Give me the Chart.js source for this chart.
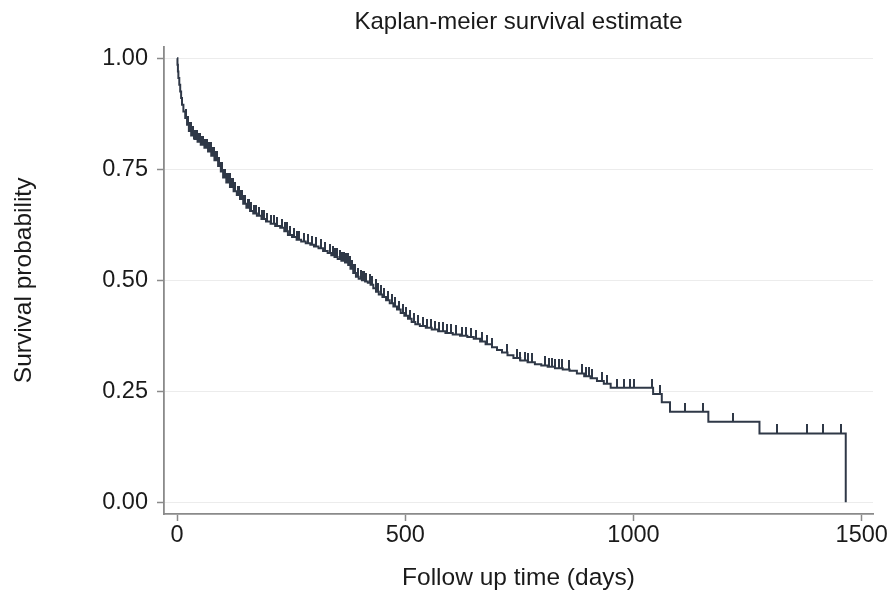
<!DOCTYPE html>
<html>
<head>
<meta charset="utf-8">
<script src="https://cdn.jsdelivr.net/npm/chart.js@4.4.1/dist/chart.umd.min.js"></script>
<style>
  html, body { margin: 0; padding: 0; background: #ffffff; }
  #wrap { width: 895px; height: 595px; }
</style>
</head>
<body>
<div id="wrap"><canvas id="c" width="895" height="595"></canvas></div>
<script>
// ---- Data ----
const chartTitle = "Kaplan-meier survival estimate";
const xAxisTitle = "Follow up time (days)";
const yAxisTitle = "Survival probability";
const xTickValues = [0, 500, 1000, 1500];
const yTickValues = [0, 0.25, 0.5, 0.75, 1];

// event times (days) and survival estimate just after each event
const eventTimes = [0, 1, 2, 3, 5, 7, 9, 11, 14, 18, 22, 26, 31, 38, 45, 52, 60, 68, 75, 82, 90, 96, 101, 108, 116, 124, 131, 138, 145, 152, 160, 167, 175, 185, 195, 205, 215, 226, 235, 243, 252, 262, 272, 282, 292, 300, 310, 320, 330, 338, 345, 352, 360, 368, 375, 380, 386, 392, 398, 405, 412, 418, 424, 430, 436, 442, 450, 458, 466, 474, 482, 490, 498, 506, 514, 522, 532, 545, 558, 572, 588, 604, 620, 636, 650, 664, 676, 690, 701, 712, 724, 737, 752, 768, 784, 798, 812, 828, 845, 860, 876, 892, 906, 920, 935, 950, 1043, 1062, 1080, 1164, 1276, 1465];
const survival   = [1.000, 0.985, 0.970, 0.955, 0.940, 0.925, 0.910, 0.895, 0.880, 0.865, 0.850, 0.836, 0.826, 0.818, 0.812, 0.805, 0.798, 0.790, 0.780, 0.770, 0.757, 0.745, 0.731, 0.720, 0.710, 0.700, 0.692, 0.683, 0.672, 0.663, 0.656, 0.650, 0.645, 0.638, 0.632, 0.627, 0.622, 0.618, 0.610, 0.602, 0.597, 0.591, 0.587, 0.583, 0.580, 0.576, 0.572, 0.566, 0.561, 0.556, 0.552, 0.548, 0.544, 0.540, 0.534, 0.526, 0.516, 0.508, 0.503, 0.500, 0.497, 0.494, 0.490, 0.482, 0.474, 0.468, 0.462, 0.455, 0.448, 0.441, 0.434, 0.426, 0.420, 0.413, 0.406, 0.401, 0.397, 0.393, 0.389, 0.385, 0.381, 0.378, 0.375, 0.372, 0.368, 0.362, 0.356, 0.349, 0.343, 0.337, 0.331, 0.325, 0.319, 0.315, 0.311, 0.308, 0.305, 0.302, 0.299, 0.296, 0.290, 0.284, 0.279, 0.273, 0.267, 0.258, 0.244, 0.225, 0.204, 0.1815, 0.155, 0.000];

// censored observation times (days)
const censorTimes = [20, 24, 28, 30, 32, 34, 36, 38, 40, 42, 44, 46, 48, 51, 55, 58, 61, 63, 66, 70, 74, 78, 81, 85, 88, 91, 93, 96, 99, 103, 105, 109, 112, 115, 118, 122, 125, 128, 133, 135, 140, 142, 147, 150, 155, 158, 163, 168, 172, 180, 186, 190, 198, 206, 212, 220, 230, 236, 240, 248, 256, 262, 268, 278, 286, 296, 305, 315, 325, 335, 342, 346, 350, 356, 362, 366, 370, 374, 378, 383, 387, 390, 396, 402, 406, 410, 415, 422, 428, 435, 440, 446, 454, 462, 470, 478, 486, 494, 502, 510, 520, 528, 538, 548, 556, 565, 575, 582, 592, 600, 612, 625, 632, 645, 655, 668, 679, 690, 723, 745, 752, 763, 770, 778, 807, 814, 822, 829, 836, 844, 858, 888, 895, 902, 910, 932, 942, 964, 979, 993, 1001, 1041, 1059, 1113, 1152, 1219, 1314, 1381, 1416, 1455];

// ---- Build library data from the arrays ----
function survivalAt(t) {
  let s = survival[0];
  for (let i = 0; i < eventTimes.length; i++) {
    if (eventTimes[i] <= t) s = survival[i]; else break;
  }
  return s;
}
const curvePoints = eventTimes.map((t, i) => ({ x: t, y: survival[i] }));
const censorPoints = censorTimes.map(t => ({ x: t, y: survivalAt(t) }));

const lineColor = '#2f3847';
// upward censor tick marker
const tickMark = document.createElement('canvas');
tickMark.width = 2; tickMark.height = 18;
(function () {
  const g = tickMark.getContext('2d');
  g.fillStyle = lineColor;
  g.fillRect(0, 0, 2, 9);
})();

Chart.defaults.font.family = "'Liberation Sans', Arial, Helvetica, sans-serif";
Chart.defaults.color = '#1a1a1a';

new Chart(document.getElementById('c'), {
  type: 'scatter',
  data: {
    datasets: [
      {
        type: 'line',
        data: curvePoints,
        stepped: true,
        borderColor: lineColor,
        borderWidth: 2,
        pointRadius: 0,
        fill: false,
        tension: 0
      },
      {
        type: 'scatter',
        data: censorPoints,
        pointStyle: tickMark,
        pointRadius: 9,
        pointHoverRadius: 9
      }
    ]
  },
  options: {
    responsive: false,
    animation: false,
    events: [],
    layout: { padding: { left: 0, right: 22, top: 0, bottom: 0 } },
    plugins: {
      legend: { display: false },
      tooltip: { enabled: false },
      title: {
        display: true,
        text: chartTitle,
        fullSize: false,
        color: '#1a1a1a',
        font: { size: 24, weight: 'normal' },
        padding: { top: 8, bottom: 10 }
      }
    },
    scales: {
      x: {
        type: 'linear',
        min: -28.5,
        max: 1524.7,
        afterBuildTicks: (s) => { s.ticks = xTickValues.map(v => ({ value: v })); },
        afterFit: (s) => { s.height = 81; },
        ticks: {
          font: { size: 23.5 },
          padding: 0,
          color: '#1a1a1a',
          callback: (v) => String(v)
        },
        grid: {
          drawOnChartArea: false,
          drawTicks: true,
          tickLength: 7,
          tickColor: '#8a8a8a',
          tickWidth: 1.5
        },
        border: { display: true, color: '#8a8a8a', width: 1.8 },
        title: {
          display: true,
          text: xAxisTitle,
          color: '#1a1a1a',
          font: { size: 24.5 },
          padding: { top: 0, bottom: 2 }
        }
      },
      y: {
        type: 'linear',
        min: -0.0264,
        max: 1.0255,
        afterBuildTicks: (s) => { s.ticks = yTickValues.map(v => ({ value: v })); },
        afterFit: (s) => { s.width = 164; },
        ticks: {
          font: { size: 23.5 },
          padding: 9,
          color: '#1a1a1a',
          callback: (v) => Number(v).toFixed(2)
        },
        grid: {
          color: '#ececec',
          lineWidth: 1,
          drawTicks: true,
          tickLength: 7,
          tickColor: '#8a8a8a',
          tickWidth: 1.5
        },
        border: { display: true, color: '#8a8a8a', width: 1.8 },
        title: {
          display: true,
          text: yAxisTitle,
          color: '#1a1a1a',
          font: { size: 24.5 },
          padding: { top: 10, bottom: 0 }
        }
      }
    }
  }
});
</script>
</body>
</html>
